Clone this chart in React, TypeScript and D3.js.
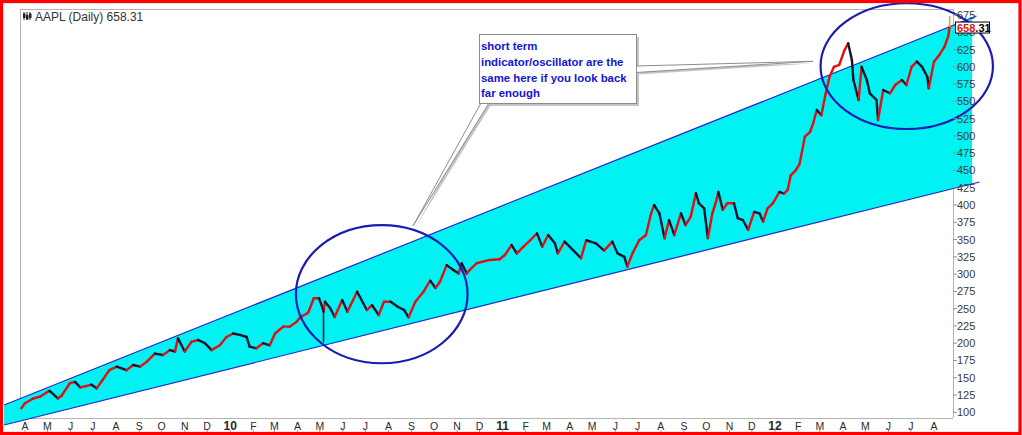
import { useEffect, useRef } from "react"
import * as d3 from "d3"

// closes (date, price)
const closes: [string, number][] = [
  ["2009-03-27", 106], ["2009-04-01", 113], ["2009-04-12", 120], ["2009-04-21", 122.6], ["2009-05-02", 130],
  ["2009-05-04", 131], ["2009-05-15", 120], ["2009-05-20", 124], ["2009-05-31", 142], ["2009-06-07", 144],
  ["2009-06-14", 136], ["2009-06-22", 138], ["2009-06-29", 140], ["2009-07-06", 134.7], ["2009-07-14", 146.8],
  ["2009-07-23", 161], ["2009-08-02", 166], ["2009-08-15", 161], ["2009-08-24", 168.5], ["2009-09-02", 166],
  ["2009-09-11", 173], ["2009-09-22", 185], ["2009-10-03", 183], ["2009-10-12", 190], ["2009-10-19", 188],
  ["2009-10-23", 207], ["2009-11-01", 188], ["2009-11-10", 202], ["2009-11-19", 204.6], ["2009-11-28", 200],
  ["2009-12-07", 190], ["2009-12-18", 197], ["2009-12-27", 209], ["2010-01-05", 214], ["2010-01-14", 212],
  ["2010-01-23", 209], ["2010-01-27", 195], ["2010-02-05", 192.6], ["2010-02-14", 200], ["2010-02-23", 197],
  ["2010-03-02", 214], ["2010-03-13", 224], ["2010-03-22", 224], ["2010-03-31", 231], ["2010-04-05", 238],
  ["2010-04-14", 243], ["2010-04-16", 245.6], ["2010-04-23", 265], ["2010-04-30", 265], ["2010-05-04", 253],
  ["2010-05-06", 246], ["2010-05-08", 260], ["2010-05-15", 250.5], ["2010-05-21", 238], ["2010-05-31", 262.5],
  ["2010-06-07", 245.6], ["2010-06-20", 274.5], ["2010-07-03", 248], ["2010-07-10", 255], ["2010-07-19", 240.8],
  ["2010-07-26", 260], ["2010-08-04", 260], ["2010-08-13", 253], ["2010-08-22", 248], ["2010-08-28", 237.5],
  ["2010-09-06", 260], ["2010-09-17", 274.5], ["2010-09-26", 290.5], ["2010-10-03", 280], ["2010-10-09", 289],
  ["2010-10-18", 313], ["2010-10-27", 306], ["2010-11-03", 301], ["2010-11-07", 315.7], ["2010-11-14", 301],
  ["2010-11-18", 306], ["2010-11-27", 315.7], ["2010-12-15", 320.5], ["2010-12-28", 321.5], ["2011-01-04", 327.7],
  ["2011-01-13", 342], ["2011-01-20", 330], ["2011-01-29", 339.7], ["2011-02-07", 349], ["2011-02-16", 359],
  ["2011-02-23", 339.7], ["2011-03-03", 356.6], ["2011-03-12", 344.6], ["2011-03-16", 330], ["2011-03-25", 347],
  ["2011-04-05", 335], ["2011-04-16", 323], ["2011-04-23", 349], ["2011-05-06", 344.6], ["2011-05-17", 334],
  ["2011-05-28", 347], ["2011-06-04", 330], ["2011-06-13", 325], ["2011-06-17", 311], ["2011-06-24", 330],
  ["2011-07-03", 349], ["2011-07-12", 356.6], ["2011-07-19", 388], ["2011-07-23", 400], ["2011-07-30", 388],
  ["2011-08-06", 352], ["2011-08-12", 378], ["2011-08-19", 356.6], ["2011-08-28", 388], ["2011-09-03", 371],
  ["2011-09-10", 383], ["2011-09-17", 417], ["2011-09-21", 402.5], ["2011-09-28", 395], ["2011-10-03", 352],
  ["2011-10-09", 388], ["2011-10-14", 405], ["2011-10-17", 419], ["2011-10-23", 393], ["2011-10-29", 402.5],
  ["2011-11-07", 402.5], ["2011-11-12", 381], ["2011-11-19", 378], ["2011-11-26", 364], ["2011-12-04", 390],
  ["2011-12-11", 388], ["2011-12-16", 376], ["2011-12-22", 395], ["2011-12-29", 402.5], ["2012-01-07", 419],
  ["2012-01-13", 416.6], ["2012-01-18", 422], ["2012-01-22", 443], ["2012-01-29", 450.6], ["2012-02-03", 460],
  ["2012-02-10", 499], ["2012-02-17", 506], ["2012-02-21", 518], ["2012-02-26", 537.5], ["2012-03-03", 530],
  ["2012-03-09", 561.7], ["2012-03-14", 585.7], ["2012-03-20", 600], ["2012-03-27", 602.7], ["2012-04-03", 624],
  ["2012-04-08", 634], ["2012-04-13", 610], ["2012-04-15", 581], ["2012-04-22", 552], ["2012-04-26", 600],
  ["2012-05-03", 581], ["2012-05-07", 561.7], ["2012-05-16", 552], ["2012-05-18", 523], ["2012-05-25", 566.5],
  ["2012-06-03", 561.7], ["2012-06-10", 573.7], ["2012-06-19", 581], ["2012-06-25", 573.7], ["2012-07-02", 600],
  ["2012-07-09", 607.5], ["2012-07-16", 600], ["2012-07-23", 585.7], ["2012-07-25", 569], ["2012-08-01", 607.5],
  ["2012-08-08", 617], ["2012-08-15", 629], ["2012-08-20", 643.6], ["2012-08-22", 658.31],
]

// long wicks visible on the chart
const wicks: [string, number, number, string][] = [
  ["2010-05-06", 202, 250, "#101030"],
  ["2012-08-22", 658.31, 673, "#f0a010"],
]

const yTicks = [100, 125, 150, 175, 200, 225, 250, 275, 300, 325, 350, 375, 400, 425, 450, 475, 500, 525, 550, 575, 600, 625, 650, 675]

const monthTicks: [string, string][] = [
  ["2009-04-01", "A"], ["2009-05-01", "M"], ["2009-06-01", "J"], ["2009-07-01", "J"], ["2009-08-01", "A"],
  ["2009-09-01", "S"], ["2009-10-01", "O"], ["2009-11-01", "N"], ["2009-12-01", "D"], ["2010-01-01", "10"],
  ["2010-02-01", "F"], ["2010-03-01", "M"], ["2010-04-01", "A"], ["2010-05-01", "M"], ["2010-06-01", "J"],
  ["2010-07-01", "J"], ["2010-08-01", "A"], ["2010-09-01", "S"], ["2010-10-01", "O"], ["2010-11-01", "N"],
  ["2010-12-01", "D"], ["2011-01-01", "11"], ["2011-02-01", "F"], ["2011-03-01", "M"], ["2011-04-01", "A"],
  ["2011-05-01", "M"], ["2011-06-01", "J"], ["2011-07-01", "J"], ["2011-08-01", "A"], ["2011-09-01", "S"],
  ["2011-10-01", "O"], ["2011-11-01", "N"], ["2011-12-01", "D"], ["2012-01-01", "12"], ["2012-02-01", "F"],
  ["2012-03-01", "M"], ["2012-04-01", "A"], ["2012-05-01", "M"], ["2012-06-01", "J"], ["2012-07-01", "J"],
  ["2012-08-01", "A"],
]

// hand drawn channel (date, price)
const upperChannel: [string, number][] = [["2009-03-04", 110.6], ["2012-09-27", 673.6]]
const lowerChannel: [string, number][] = [["2009-03-04", 81.6], ["2012-10-01", 433.3]]
const channelFillEnd = "2012-09-21"

// circled regions: left date, right date, top price, bottom price
const circles: [string, string, number, number][] = [
  ["2010-03-30", "2010-11-15", 371, 171],
  ["2012-03-02", "2012-10-19", 692, 510],
]

const noteLines = ["short term", "indicator/oscillator are the", "same here if you look back", "far enough"]
const noteTargets: [string, number][] = [["2012-02-21", 608], ["2010-09-03", 370]]

const titleText = "AAPL (Daily) 658.31"
const lastClose = 658.31

export default function App() {
  const svgRef = useRef<SVGSVGElement>(null)

  useEffect(() => {
    if (!svgRef.current) return
    const svg = d3.select(svgRef.current)
    svg.selectAll("*").remove()

    const W = 1022
    const H = 435
    const frame = { left: 20, right: 953, top: 9, bottom: 418 }
    const font = "Arial, 'Liberation Sans', sans-serif"
    const parse = d3.timeParse("%Y-%m-%d")
    const pd = (s: string) => parse(s)!

    const x = d3.scaleTime().domain([pd("2009-04-01"), pd("2012-08-01")]).range([25, 934])
    const y = d3.scaleLinear().domain([100, 675]).range([412.3, 15])

    svg.append("rect").attr("width", W).attr("height", H).attr("fill", "#fff")

    // frame
    const fg = svg.append("g").attr("stroke", "#b4b4b4").attr("stroke-width", 1).attr("fill", "none")
    fg.append("line").attr("x1", frame.left).attr("x2", frame.right).attr("y1", frame.top + 0.5).attr("y2", frame.top + 0.5)
    fg.append("line").attr("x1", frame.left).attr("x2", frame.right).attr("y1", frame.bottom + 0.5).attr("y2", frame.bottom + 0.5)
    fg.append("line").attr("x1", frame.left + 0.5).attr("x2", frame.left + 0.5).attr("y1", frame.top).attr("y2", frame.bottom)
    fg.append("line").attr("x1", frame.right + 0.5).attr("x2", frame.right + 0.5).attr("y1", frame.top).attr("y2", frame.bottom)

    // channel fill
    const lineAt = (pts: [string, number][], d: Date) => {
      const s = d3.scaleLinear().domain([pd(pts[0][0]).getTime(), pd(pts[1][0]).getTime()]).range([pts[0][1], pts[1][1]])
      return s(d.getTime())
    }
    const fe = pd(channelFillEnd)
    const poly: [number, number][] = [
      [x(pd(upperChannel[0][0])), y(upperChannel[0][1])],
      [x(fe), y(lineAt(upperChannel, fe))],
      [x(fe), y(lineAt(lowerChannel, fe))],
      [x(pd(lowerChannel[0][0])), y(lowerChannel[0][1])],
    ]
    svg.append("polygon").attr("points", poly.map((p) => p.join(",")).join(" ")).attr("fill", "#00f2f2")

    const chLine = d3
      .line<[string, number]>()
      .x((d) => x(pd(d[0])))
      .y((d) => y(d[1]))
    ;[upperChannel, lowerChannel].forEach((c) => {
      svg.append("path").attr("d", chLine(c)).attr("stroke", "#2828c8").attr("stroke-width", 1.2).attr("fill", "none")
    })

    // price segments, red when up, dark when down
    const pg = svg.append("g").attr("stroke-width", 2.4).attr("stroke-linecap", "round")
    for (let i = 1; i < closes.length; i++) {
      const a = closes[i - 1]
      const b = closes[i]
      pg.append("line")
        .attr("x1", x(pd(a[0])))
        .attr("y1", y(a[1]))
        .attr("x2", x(pd(b[0])))
        .attr("y2", y(b[1]))
        .attr("stroke", b[1] >= a[1] ? "#e01010" : "#141432")
    }
    wicks.forEach(([d, lo, hi, c]) => {
      pg.append("line")
        .attr("x1", x(pd(d)))
        .attr("x2", x(pd(d)))
        .attr("y1", y(lo))
        .attr("y2", y(hi))
        .attr("stroke", c)
        .attr("stroke-width", 1.5)
    })

    // circles
    circles.forEach(([d0, d1, top, bot]) => {
      const x0 = x(pd(d0))
      const x1 = x(pd(d1))
      const y0 = y(top)
      const y1 = y(bot)
      svg.append("ellipse")
        .attr("cx", (x0 + x1) / 2)
        .attr("cy", (y0 + y1) / 2)
        .attr("rx", (x1 - x0) / 2)
        .attr("ry", (y1 - y0) / 2)
        .attr("fill", "none")
        .attr("stroke", "#1a1ab4")
        .attr("stroke-width", 2.2)
    })

    // callout
    const box = { x: 479, y: 34, w: 157, h: 69 }
    const tipR = [x(pd(noteTargets[0][0])), y(noteTargets[0][1])]
    const tipB = [x(pd(noteTargets[1][0])), y(noteTargets[1][1])]
    const wedgeR = [[box.x + box.w, box.y + 32], [box.x + box.w, box.y + 38.5], tipR]
    const wedgeB = [[box.x + 2, box.y + box.h], [box.x + 10, box.y + box.h], tipB]
    const cg = svg.append("g")
    ;[wedgeR, wedgeB].forEach((w) => {
      cg.append("polygon")
        .attr("points", w.map((p) => `${p[0] + 2},${p[1] + 2}`).join(" "))
        .attr("fill", "#c4c4c4")
    })
    cg.append("rect").attr("x", box.x + 3).attr("y", box.y + 3).attr("width", box.w).attr("height", box.h).attr("fill", "#c4c4c4")
    ;[wedgeR, wedgeB].forEach((w) => {
      cg.append("polygon")
        .attr("points", w.map((p) => p.join(",")).join(" "))
        .attr("fill", "#fff")
        .attr("stroke", "#8c8c8c")
        .attr("stroke-width", 1)
    })
    cg.append("rect")
      .attr("x", box.x + 0.5)
      .attr("y", box.y + 0.5)
      .attr("width", box.w)
      .attr("height", box.h)
      .attr("fill", "#fff")
      .attr("stroke", "#8c8c8c")
    noteLines.forEach((t, i) => {
      cg.append("text")
        .attr("x", box.x + 2)
        .attr("y", box.y + 16 + i * 15.8)
        .attr("font-family", font)
        .attr("font-weight", "bold")
        .attr("font-size", 11.4)
        .attr("fill", "#1414d2")
        .text(t)
    })

    // right axis
    const ag = svg.append("g")
    yTicks.forEach((v) => {
      ag.append("line")
        .attr("x1", frame.right)
        .attr("x2", frame.right + 4)
        .attr("y1", y(v))
        .attr("y2", y(v))
        .attr("stroke", "#909090")
      ag.append("text")
        .attr("x", frame.right + 4)
        .attr("y", y(v) + 4)
        .attr("font-family", font)
        .attr("font-size", 11)
        .attr("fill", "#3a3a3a")
        .text(v)
    })

    // last price marker
    const ly = y(lastClose)
    ag.append("rect")
      .attr("x", 955.5)
      .attr("y", ly - 4.5)
      .attr("width", 34)
      .attr("height", 11)
      .attr("fill", "#fff")
      .attr("stroke", "#000")
    const lt = ag.append("text")
      .attr("x", 957)
      .attr("y", ly + 5)
      .attr("font-family", font)
      .attr("font-weight", "bold")
      .attr("font-size", 11)
    lt.append("tspan").attr("fill", "#d01818").text(d3.format(".2f")(lastClose).slice(0, 3))
    lt.append("tspan").attr("fill", "#000").text(d3.format(".2f")(lastClose).slice(3))

    // bottom axis
    monthTicks.forEach(([d, lab]) => {
      const px = x(pd(d))
      const yr = /\d/.test(lab)
      ag.append("text")
        .attr("x", px)
        .attr("y", 430)
        .attr("text-anchor", "middle")
        .attr("font-family", font)
        .attr("font-size", yr ? 12 : 10.5)
        .attr("font-weight", yr ? "bold" : "normal")
        .attr("fill", "#2a2a2a")
        .text(lab)
      ag.append("line").attr("x1", px).attr("x2", px).attr("y1", 430).attr("y2", 433).attr("stroke", "#a0a0a0")
    })

    // title
    const tg = svg.append("g").attr("transform", "translate(23,12)")
    ;[0, 3, 6].forEach((dx, i) => {
      tg.append("line").attr("x1", dx + 1).attr("x2", dx + 1).attr("y1", 0).attr("y2", 8).attr("stroke", "#222")
      tg.append("rect").attr("x", dx).attr("y", i === 1 ? 3 : 1.5).attr("width", 2.5).attr("height", 4.5).attr("fill", "#222")
    })
    svg.append("text")
      .attr("x", 35)
      .attr("y", 21)
      .attr("font-family", font)
      .attr("font-size", 12)
      .attr("fill", "#333")
      .text(titleText)

    // red border
    svg.append("rect")
      .attr("x", 1.5)
      .attr("y", 1.5)
      .attr("width", W - 3.5)
      .attr("height", H - 3)
      .attr("fill", "none")
      .attr("stroke", "#ff0000")
      .attr("stroke-width", 3.2)
  }, [])

  return (
    <>
      <style>{`body{margin:0}`}</style>
      <svg ref={svgRef} width={1022} height={435} style={{ display: "block" }} />
    </>
  )
}
